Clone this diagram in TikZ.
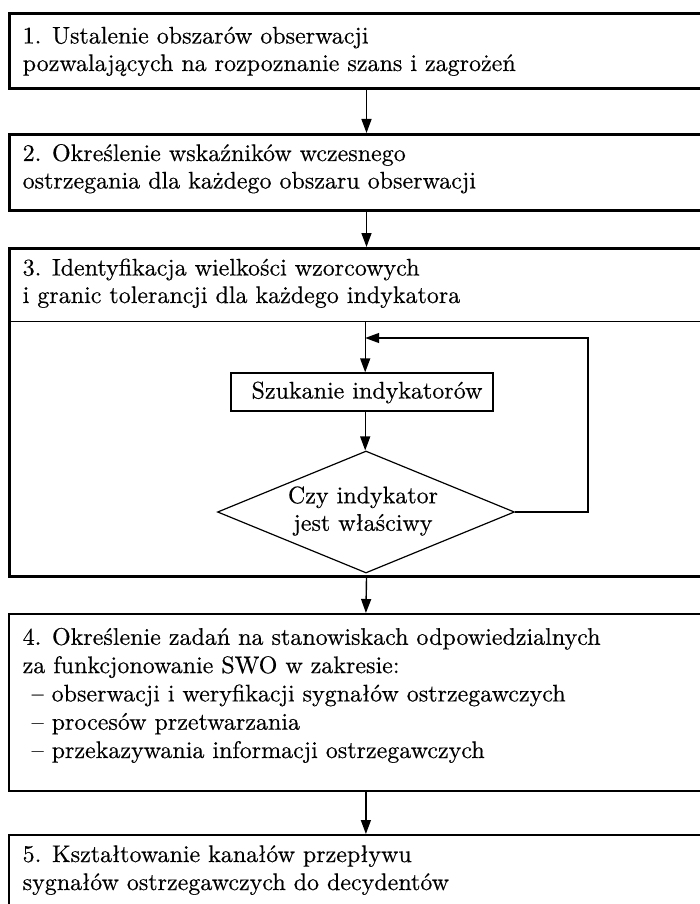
\documentclass[tikz,border=0pt]{standalone}
\usepackage{fontspec}
\setmainfont{lmroman10-regular.otf}[FakeBold=0.4]
\usetikzlibrary{arrows.meta,shapes.geometric}
\begin{document}
\begin{tikzpicture}[x=1pt,y=-1pt,
  stagebox/.style={draw, line width=3pt, rectangle, inner sep=0pt, anchor=north west, minimum width=714pt},
  taskbox/.style={draw, line width=1.8pt, rectangle, inner sep=0pt, anchor=north west, minimum width=714pt},
  headpart/.style={draw=none, rectangle, inner sep=0pt, anchor=north west, minimum width=714pt},
  innerbox/.style={draw, line width=1.3pt, rectangle, inner sep=0pt, minimum width=262pt, minimum height=38pt},
  decision/.style={draw, line width=1.2pt, diamond, inner sep=0pt, minimum width=297pt, minimum height=122pt},
  bodyfont/.style={font=\fontsize{24}{27.5}\selectfont},
  boxtext/.style={bodyfont, inner sep=0pt, align=left, anchor=base west},
  flow/.style={line width=1.4pt, -{Triangle[length=14pt,width=10pt]}},
]
\useasboundingbox (0,0) rectangle (700,904);
\fill[white] (0,0) rectangle (700,904);
\clip (0,0) rectangle (700,904);

% stage 1 (text nodes are placed by the baseline of their last line)
\node[stagebox, minimum height=75pt] (b1) at (8,12) {};
\node[boxtext] (t1) at (22.5,71) {1. Ustalenie obszarów obserwacji\\pozwalających na rozpoznanie szans i zagrożeń};

% stage 2
\node[stagebox, minimum height=76pt] (b2) at (8,133) {};
\node[boxtext] (t2) at (22.5,188.5) {2. Określenie wskaźników wczesnego\\ostrzegania dla każdego obszaru obserwacji};

% stage 3 with the indicator search loop
\node[stagebox, minimum height=328pt] (b3) at (8,247) {};
\node[headpart, minimum height=74pt] (b3h) at (8,247) {};
\draw[line width=1.3pt] (b3h.south west) -- (b3h.south east);
\node[boxtext] (t3) at (22.5,303) {3. Identyfikacja wielkości wzorcowych\\i granic tolerancji dla każdego indykatora};

\node[innerbox] (s) at (362,392) {};
\node[bodyfont, inner sep=0pt, anchor=base] (st) at (367,398.5) {Szukanie indykatorów};

\node[decision] (d) at (366,512) {};
\node[bodyfont, inner sep=0pt, align=center] (dt) at (363,511) {Czy indykator\\jest właściwy};

\coordinate (back) at (588,338);

% stage 4
\node[taskbox, minimum height=177pt] (b4) at (8,613) {};
\node[boxtext, font=\fontsize{24}{28.3}\selectfont] (t4) at (22.5,758) {4. Określenie zadań na stanowiskach odpowiedzialnych\\
za funkcjonowanie SWO w zakresie:\\
\hspace*{9pt}– obserwacji i weryfikacji sygnałów ostrzegawczych\\
\hspace*{9pt}– procesów przetwarzania\\
\hspace*{9pt}– przekazywania informacji ostrzegawczych};

% stage 5
\node[taskbox, minimum height=110pt] (b5) at (8,834) {};
\node[boxtext, font=\fontsize{24}{28}\selectfont] (t5) at (22.5,890) {5. Kształtowanie kanałów przepływu\\sygnałów ostrzegawczych do decydentów};

% connectors
\draw[flow] (b1.south) -- (b2.north);
\draw[flow] (b2.south) -- (b3.north);
\draw[flow] (b3h.south) -- (b3h.south |- s.north);
\draw[flow] (b3h.south |- s.south) -- (b3h.south |- d.north);
\draw[flow] (d.east) -| (back) -- (b3h.south |- back);
\draw[flow] (b3.south) -- (b4.north);
\draw[flow] (b4.south) -- (b5.north);
\end{tikzpicture}
\end{document}
